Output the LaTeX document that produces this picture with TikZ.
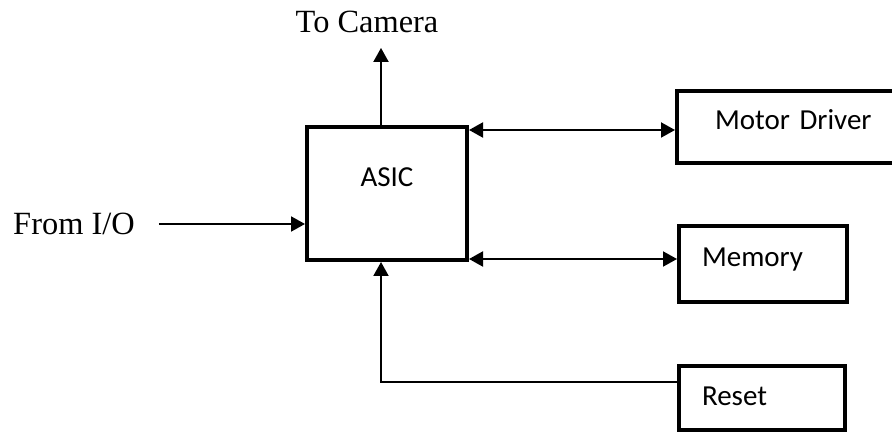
\documentclass[tikz,border=0pt]{standalone}
\usepackage{fontspec}
\setmainfont{Liberation Serif}
\newfontfamily\boxfont{Carlito}
\usetikzlibrary{arrows.meta,positioning}

\begin{document}
\begin{tikzpicture}[
  x=0.5pt, y=-0.5pt,
  >={Triangle[length=7pt,width=7.5pt]},
  block/.style={draw, line width=2pt, inner ysep=0pt, anchor=north west, font=\boxfont\fontsize{14.5}{17}\selectfont},
  outlabel/.style={font=\fontsize{16.2}{19}\selectfont},
  link/.style={->, line width=1pt}
]
  \useasboundingbox (0,0) rectangle (892,432);
  \clip (0,0) rectangle (892,432);

  \node[block, minimum width=80pt, align=center, text height=30pt, text depth=36.5pt] (asic) at (305,125) {ASIC};
  \node[block, inner xsep=19pt, text width=100pt, align=left, text height=19.5pt, text depth=16.5pt] (motor) at (675,89) {Motor Driver};
  \node[block, inner xsep=11.5pt, text width=61pt, align=left, text height=20pt, text depth=18pt] (memory) at (677,224) {Memory};
  \node[block, inner xsep=11.5pt, text width=60pt, align=left, text height=19.5pt, text depth=12.5pt] (reset) at (677,364) {Reset};

  \node[outlabel] (camera) at (367,22) {To Camera};
  \node[outlabel] (fromio) at (74,224) {From I/O};

  \coordinate (cam) at ([xshift=-3pt]asic.north);
  \coordinate (rb) at ([xshift=-3pt]asic.south);
  \coordinate (md) at ([yshift=-2.5pt]asic.north east);
  \coordinate (mm) at ([yshift=1.5pt]asic.south east);
  \coordinate (rs) at ([yshift=8pt]reset.west);

  \draw[link, shorten >=4pt] (cam) -- (cam |- camera.south);
  \draw[link, shorten <=8.5pt] (fromio.east) -- (fromio.east -| asic.west);
  \draw[link, <->] (md) -- (md -| motor.west);
  \draw[link, <->] (mm) -- (mm -| memory.west);
  \draw[link] (rs) -| (rb);
\end{tikzpicture}
\end{document}
